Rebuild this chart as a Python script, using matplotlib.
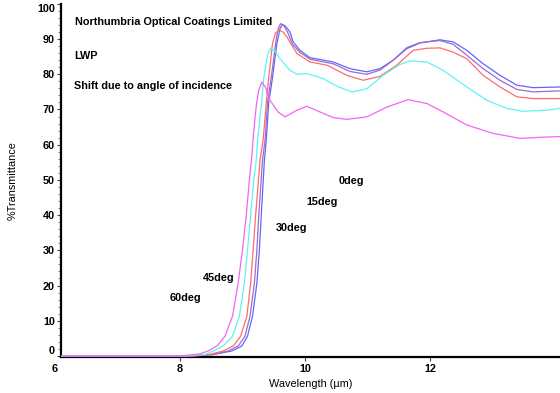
import matplotlib
matplotlib.use("Agg")
import matplotlib.pyplot as plt
from matplotlib.ticker import MultipleLocator

plt.rcParams['font.family'] = ['Liberation Sans', 'DejaVu Sans']
plt.rcParams['font.weight'] = 'bold'
plt.rcParams['font.size'] = 7.8

# wavelength (um) / %T, one pair per angle
x_0 = [6.1, 8.2, 8.5, 8.83, 8.99, 9.08, 9.16, 9.23, 9.27, 9.30, 9.35, 9.38, 9.42, 9.48, 9.55, 9.60, 9.64,
       9.69, 9.76, 9.81, 9.92, 10.08, 10.24, 10.45, 10.72, 10.99, 11.2, 11.41, 11.63, 11.84, 12.16, 12.37,
       12.59, 12.85, 13.12, 13.39, 13.65, 14.08]
t_0 = [0, 0, 0.3, 1.4, 2.8, 5.6, 11.3, 20.7, 30.2, 40, 55.6, 61.3, 72, 79.1, 88.8, 93, 94.2,
       93.6, 92.0, 89.2, 86.8, 84.7, 84.2, 83.5, 81.6, 80.7, 81.6, 84.0, 87.3, 88.9, 89.8, 89.2,
       86.8, 83.0, 79.7, 76.9, 76.2, 76.4]

x_15 = [6.1, 8.2, 8.5, 8.77, 8.93, 9.04, 9.12, 9.19, 9.23, 9.26, 9.32, 9.36, 9.40, 9.46, 9.53, 9.57, 9.61,
        9.66, 9.72, 9.80, 9.92, 10.08, 10.24, 10.45, 10.72, 10.99, 11.2, 11.41, 11.63, 11.84, 12.16, 12.37,
        12.59, 12.85, 13.12, 13.39, 13.65, 14.08]
t_15 = [0, 0, 0.3, 1.4, 2.8, 5.6, 11.3, 20.7, 30.2, 40, 55.6, 61.3, 72, 79.1, 88.8, 93, 94.4,
        93.8, 92.0, 88.5, 86.2, 84.3, 83.7, 83.0, 80.8, 80.0, 81.2, 84.0, 87.6, 89.0, 89.6, 88.5,
        85.4, 81.6, 78.3, 75.7, 75.0, 75.3]

x_30 = [6.1, 8.15, 8.45, 8.69, 8.85, 8.97, 9.07, 9.13, 9.17, 9.21, 9.28, 9.33, 9.38, 9.42, 9.48, 9.53, 9.59,
        9.65, 9.71, 9.87, 10.08, 10.35, 10.67, 10.93, 11.2, 11.47, 11.73, 11.95, 12.16, 12.37, 12.59, 12.85,
        13.12, 13.39, 13.65, 14.08]
t_30 = [0, 0, 0.3, 1.4, 2.8, 5.6, 11.3, 20.7, 30.2, 40, 55.6, 61.3, 72, 79.1, 88.8, 91.8, 92.5,
        92.0, 90.6, 85.9, 83.5, 82.6, 79.7, 78.3, 79.4, 82.6, 86.8, 87.4, 87.5, 86.3, 84.4, 79.7,
        76.4, 73.6, 73.1, 73.1]

x_45 = [6.1, 8.1, 8.4, 8.53, 8.69, 8.84, 8.95, 9.03, 9.08, 9.13, 9.18, 9.22, 9.24, 9.30, 9.34, 9.40, 9.45,
        9.51, 9.60, 9.76, 9.87, 10.03, 10.29, 10.51, 10.75, 10.99, 11.25, 11.52, 11.68, 11.95, 12.21,
        12.59, 12.91, 13.23, 13.49, 13.87, 14.08]
t_45 = [0, 0, 0.4, 1.4, 2.8, 5.6, 11.3, 20.7, 30.2, 40, 50, 55.6, 61.3, 71, 79.1, 85.5, 87.5,
        86.8, 84.4, 81.1, 80.0, 80.2, 78.8, 76.6, 75.0, 75.9, 79.7, 82.8, 83.8, 83.5, 81.1,
        76.4, 72.6, 70.3, 69.5, 69.8, 70.3]

x_60 = [6.1, 8.0, 8.3, 8.45, 8.59, 8.72, 8.84, 8.93, 9.0, 9.06, 9.11, 9.15, 9.18, 9.22, 9.26, 9.31,
        9.37, 9.44, 9.57, 9.68, 9.87, 10.03, 10.24, 10.45, 10.67, 10.99, 11.31, 11.65, 11.95, 12.21,
        12.59, 13.01, 13.44, 13.76, 14.08]
t_60 = [0, 0, 0.5, 1.4, 2.8, 5.6, 11.3, 20.7, 30.2, 40, 50, 57, 64, 71, 75.5, 77.8,
        76.2, 72.6, 69.3, 67.9, 69.8, 70.9, 69.3, 67.7, 67.2, 67.9, 70.7, 72.8, 71.7, 69.3,
        65.6, 63.2, 61.8, 62.1, 62.3]

curves = [(x_0, t_0, '#6464ff'), (x_15, t_15, '#9c6cc8'), (x_30, t_30, '#ff6c6c'),
          (x_45, t_45, '#5cf4f4'), (x_60, t_60, '#f464f4')]

# angle labels: (text, x, y)
angle_labels = [('0deg', 10.53, 49.8), ('15deg', 10.02, 43.8), ('30deg', 9.54, 36.4),
                ('45deg', 8.37, 22.0), ('60deg', 7.84, 16.5)]

fig = plt.figure(figsize=(5.6, 3.93), dpi=100)
ax = fig.add_axes([0.109, 0.0908, 0.891, 0.8993])

for xs, ts, c in curves:
    ax.plot(xs, ts, color=c, lw=0.9, zorder=3)

ax.set_xlim(6.096, 14.08)
ax.set_ylim(-0.4, 100)

ax.text(6.32, 94.9, 'Northumbria Optical Coatings Limited', va='center')
ax.text(6.30, 85.2, 'LWP', va='center')
ax.text(6.30, 76.7, 'Shift due to angle of incidence', va='center')
for lab, lx, ly in angle_labels:
    ax.text(lx, ly, lab, va='center')

for s in ['top', 'right']:
    ax.spines[s].set_visible(False)
for s in ['left', 'bottom']:
    ax.spines[s].set_linewidth(1.6)

ax.set_xticks([8, 10, 12])
ax.set_yticks(range(0, 101, 10))
ax.yaxis.set_minor_locator(MultipleLocator(2))
ax.tick_params(axis='both', which='major', length=3, width=0.8, pad=1.5, color='#444444')
ax.tick_params(axis='y', which='minor', length=2, width=0.6, color='#666666')
ylabs = ax.get_yticklabels()
ylabs[0].set_va('bottom')
ylabs[-1].set_va('top')
ax.annotate('6', xy=(6.0, 0), xycoords=('data', 'axes fraction'), xytext=(0, -4.5),
            textcoords='offset points', ha='center', va='top', annotation_clip=False)

ax.set_xlabel('Wavelength (µm)', labelpad=4)
ax.set_ylabel('%Transmittance', labelpad=14)

fig.savefig('out.png', dpi=100)
